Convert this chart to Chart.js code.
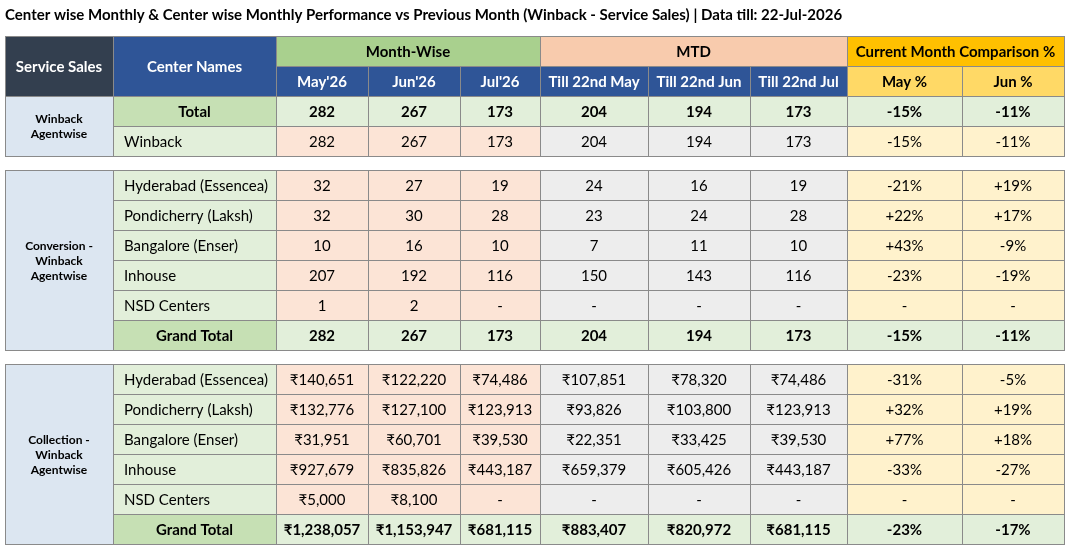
<!DOCTYPE html>
<html>
<head>
<meta charset="utf-8">
<title>Winback - Service Sales</title>
<script src="https://cdn.jsdelivr.net/npm/chart.js@4.4.1/dist/chart.umd.min.js"></script>
<style>
  html, body { margin: 0; padding: 0; background: #fff; }
  #wrap { width: 1070px; height: 550px; }
</style>
</head>
<body>
<div id="wrap"><canvas id="perfTable"></canvas></div>
<script>
'use strict';

/* ─────────────────────────────────────────────────
   DATA
───────────────────────────────────────────────── */
const titleText    = 'Center wise Monthly & Center wise Monthly Performance vs Previous Month (Winback - Service Sales) | Data till: 22-Jul-2026';
const groupHeaders = ['Month-Wise', 'MTD', 'Current Month Comparison %'];
const monthCols    = ["May'26", "Jun'26", "Jul'26"];
const mtdCols      = ['Till 22nd May', 'Till 22nd Jun', 'Till 22nd Jul'];
const pctCols      = ['May %', 'Jun %'];
const centers      = ['Hyderabad (Essencea)', 'Pondicherry (Laksh)', 'Bangalore (Enser)', 'Inhouse', 'NSD Centers'];

// Winback agentwise
const winbackMonth = [282, 267, 173];
const winbackMtd   = [204, 194, 173];
const winbackPct   = [-15, -11];

// Conversion - winback agentwise (null = "-")
const convMonth = [[32, 27, 19], [32, 30, 28], [10, 16, 10], [207, 192, 116], [1, 2, null]];
const convMtd   = [[24, 16, 19], [23, 24, 28], [7, 11, 10], [150, 143, 116], [null, null, null]];
const convPct   = [[-21, 19], [22, 17], [43, -9], [-23, -19], [null, null]];
const convTotalMonth = [282, 267, 173];
const convTotalMtd   = [204, 194, 173];
const convTotalPct   = [-15, -11];

// Collection - winback agentwise (rupees)
const collMonth = [[140651, 122220, 74486], [132776, 127100, 123913], [31951, 60701, 39530], [927679, 835826, 443187], [5000, 8100, null]];
const collMtd   = [[107851, 78320, 74486], [93826, 103800, 123913], [22351, 33425, 39530], [659379, 605426, 443187], [null, null, null]];
const collPct   = [[-31, -5], [32, 19], [77, 18], [-33, -27], [null, null]];
const collTotalMonth = [1238057, 1153947, 681115];
const collTotalMtd   = [883407, 820972, 681115];
const collTotalPct   = [-23, -17];

/* ─────────────────────────────────────────────────
   LAYOUT + STYLES
───────────────────────────────────────────────── */
const colWidths = [108, 163, 92, 92, 80, 108, 102, 97, 115, 102];
const colEdges  = colWidths.reduce((acc, w) => { acc.push(acc[acc.length - 1] + w); return acc; }, [0]);
const ROW_H  = 30;
const GAP    = 14;
const FONT   = "Lato, 'Noto Sans', 'DejaVu Sans', sans-serif";

const S = {
  dark:    { fill: '#333f4f', color: '#ffffff', bold: true,  size: 15 },
  blue:    { fill: '#2f5597', color: '#ffffff', bold: true,  size: 15 },
  grpGreen:{ fill: '#a9d08e', color: '#000000', bold: true,  size: 15 },
  grpPeach:{ fill: '#f8cbad', color: '#000000', bold: true,  size: 15 },
  grpGold: { fill: '#ffc000', color: '#000000', bold: true,  size: 15 },
  subGold: { fill: '#ffd966', color: '#000000', bold: true,  size: 15 },
  cat:     { fill: '#dce6f1', color: '#000000', bold: true,  size: 12 },
  totName: { fill: '#c6e0b4', color: '#000000', bold: true,  size: 15 },
  totVal:  { fill: '#e2efda', color: '#000000', bold: true,  size: 15 },
  name:    { fill: '#e2efda', color: '#000000', bold: false, size: 15, align: 'left' },
  month:   { fill: '#fce4d6', color: '#000000', bold: false, size: 15 },
  mtd:     { fill: '#ededed', color: '#000000', bold: false, size: 15 },
  pct:     { fill: '#fff2cc', color: '#000000', bold: false, size: 15 },
};

const fmtCount = v => v == null ? '-' : String(v);
const fmtRupee = v => v == null ? '-' : '\u20B9' + v.toLocaleString('en-US');
const fmtPct   = v => v == null ? '-' : (v > 0 ? '+' : '') + v + '%';

/* ─────────────────────────────────────────────────
   BUILD CELL LIST (column index + row units)
───────────────────────────────────────────────── */
const cells = [];
function addCell(c0, c1, r0, r1, text, style) {
  cells.push({ c0, c1, r0, r1, text, style });
}

// header rows
addCell(0, 1, 0, 2 * ROW_H, 'Service Sales', S.dark);
addCell(1, 2, 0, 2 * ROW_H, 'Center Names', S.blue);
addCell(2, 5, 0, ROW_H, groupHeaders[0], S.grpGreen);
addCell(5, 8, 0, ROW_H, groupHeaders[1], S.grpPeach);
addCell(8, 10, 0, ROW_H, groupHeaders[2], S.grpGold);
monthCols.forEach((t, i) => addCell(2 + i, 3 + i, ROW_H, 2 * ROW_H, t, S.blue));
mtdCols.forEach((t, i) => addCell(5 + i, 6 + i, ROW_H, 2 * ROW_H, t, S.blue));
pctCols.forEach((t, i) => addCell(8 + i, 9 + i, ROW_H, 2 * ROW_H, t, S.subGold));

function addRow(r0, name, month, mtd, pct, fmt, isTotal) {
  const r1 = r0 + ROW_H;
  addCell(1, 2, r0, r1, name, isTotal ? S.totName : S.name);
  month.forEach((v, i) => addCell(2 + i, 3 + i, r0, r1, fmt(v), isTotal ? S.totVal : S.month));
  mtd.forEach((v, i) => addCell(5 + i, 6 + i, r0, r1, fmt(v), isTotal ? S.totVal : S.mtd));
  pct.forEach((v, i) => addCell(8 + i, 9 + i, r0, r1, fmtPct(v), isTotal ? S.totVal : S.pct));
}

// section 1 — winback agentwise
let rowTop = 2 * ROW_H;
addCell(0, 1, rowTop, rowTop + 2 * ROW_H, ['Winback', 'Agentwise'], S.cat);
addRow(rowTop, 'Total', winbackMonth, winbackMtd, winbackPct, fmtCount, true);
addRow(rowTop + ROW_H, 'Winback', winbackMonth, winbackMtd, winbackPct, fmtCount, false);

// section 2 — conversion
rowTop += 2 * ROW_H + GAP;
addCell(0, 1, rowTop, rowTop + 6 * ROW_H, ['Conversion -', 'Winback', 'Agentwise'], S.cat);
centers.forEach((c, i) => addRow(rowTop + i * ROW_H, c, convMonth[i], convMtd[i], convPct[i], fmtCount, false));
addRow(rowTop + 5 * ROW_H, 'Grand Total', convTotalMonth, convTotalMtd, convTotalPct, fmtCount, true);

// section 3 — collection
rowTop += 6 * ROW_H + GAP;
addCell(0, 1, rowTop, rowTop + 6 * ROW_H, ['Collection -', 'Winback', 'Agentwise'], S.cat);
centers.forEach((c, i) => addRow(rowTop + i * ROW_H, c, collMonth[i], collMtd[i], collPct[i], fmtRupee, false));
addRow(rowTop + 5 * ROW_H, 'Grand Total', collTotalMonth, collTotalMtd, collTotalPct, fmtRupee, true);

const tableBottom = rowTop + 6 * ROW_H;

/* ─────────────────────────────────────────────────
   PLUGIN — paints the cells through the chart scales
───────────────────────────────────────────────── */
const tablePlugin = {
  id: 'tableCells',
  afterDraw(chart) {
    const { ctx, scales: { x, y } } = chart;
    ctx.save();

    cells.forEach(cell => {
      const x0 = Math.round(x.getPixelForValue(colEdges[cell.c0]));
      const x1 = Math.round(x.getPixelForValue(colEdges[cell.c1]));
      const y0 = Math.round(y.getPixelForValue(cell.r0));
      const y1 = Math.round(y.getPixelForValue(cell.r1));
      const st = cell.style;

      ctx.fillStyle = st.fill;
      ctx.fillRect(x0, y0, x1 - x0, y1 - y0);

      ctx.strokeStyle = '#8a8a8a';
      ctx.lineWidth = 1;
      ctx.strokeRect(x0 + 0.5, y0 + 0.5, x1 - x0, y1 - y0);

      ctx.fillStyle = st.color;
      ctx.font = (st.bold ? 'bold ' : '') + st.size + 'px ' + FONT;
      ctx.textBaseline = 'middle';
      const lines = Array.isArray(cell.text) ? cell.text : [cell.text];
      const lh = 15;
      const cy = (y0 + y1) / 2 + 1 - (lines.length - 1) * lh / 2;
      lines.forEach((ln, i) => {
        if (st.align === 'left') {
          ctx.textAlign = 'left';
          ctx.fillText(ln, x0 + 11, cy + i * lh);
        } else {
          ctx.textAlign = 'center';
          ctx.fillText(ln, (x0 + x1) / 2, cy + i * lh);
        }
      });
    });

    ctx.restore();
  }
};

/* ─────────────────────────────────────────────────
   CHART
───────────────────────────────────────────────── */
new Chart(document.getElementById('perfTable'), {
  type: 'scatter',
  data: { datasets: [] },
  options: {
    responsive: true,
    maintainAspectRatio: false,
    animation: false,
    events: [],
    layout: { padding: { left: 5, right: 6, top: 0, bottom: 6 } },
    plugins: {
      legend:  { display: false },
      tooltip: { enabled: false },
      title: {
        display: true,
        text: titleText,
        align: 'start',
        color: '#000000',
        font: { family: FONT, size: 15, weight: 'bold', lineHeight: 1.2 },
        padding: { top: 6, bottom: 12 },
      },
    },
    scales: {
      x: { type: 'linear', min: 0, max: colEdges[colEdges.length - 1], display: false },
      y: { type: 'linear', min: 0, max: tableBottom, reverse: true, display: false },
    },
  },
  plugins: [tablePlugin],
});
</script>
</body>
</html>
